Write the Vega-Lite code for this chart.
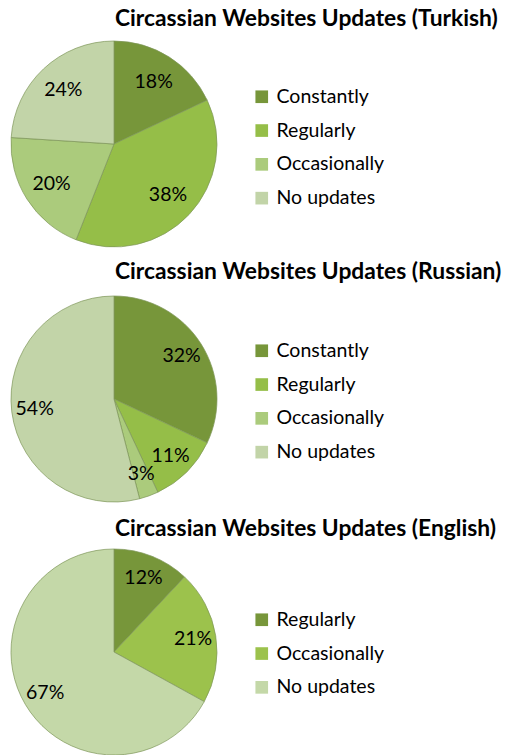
{
  "$schema": "https://vega.github.io/schema/vega-lite/v6.json",
  "padding": {"top": 8, "left": 0, "right": 0, "bottom": 0},
  "background": "white",
  "config": {
    "font": "Lato",
    "view": {"stroke": null},
    "concat": {"spacing": 10},
    "title": {"anchor": "start", "dx": 115, "fontSize": 22.8, "fontWeight": "bold", "font": "Lato", "color": "black", "offset": 6},
    "legend": {"title": null, "orient": "none", "legendX": 252, "labelFontSize": 19.5, "labelFont": "Lato", "labelColor": "black", "symbolType": "square", "symbolSize": 160, "symbolStrokeWidth": 0, "rowPadding": 12.8, "labelOffset": 5, "padding": 0}
  },
  "resolve": {"scale": {"color": "independent"}, "legend": {"color": "independent"}},
  "datasets": {
    "turkish": [
      {"category": "Constantly", "pct": 18, "ord": 1},
      {"category": "Regularly", "pct": 38, "ord": 2},
      {"category": "Occasionally", "pct": 20, "ord": 3},
      {"category": "No updates", "pct": 24, "ord": 4}
    ],
    "russian": [
      {"category": "Constantly", "pct": 32, "ord": 1},
      {"category": "Regularly", "pct": 11, "ord": 2},
      {"category": "Occasionally", "pct": 3, "ord": 3},
      {"category": "No updates", "pct": 54, "ord": 4}
    ],
    "english": [
      {"category": "Regularly", "pct": 12, "ord": 1},
      {"category": "Occasionally", "pct": 21, "ord": 2},
      {"category": "No updates", "pct": 67, "ord": 3}
    ]
  },
  "vconcat": [
    {
      "title": "Circassian Websites Updates (Turkish)",
      "width": 228, "height": 214,
      "data": {"name": "turkish"},
      "transform": [{"calculate": "datum.pct + '%'", "as": "label"}],
      "encoding": {
        "theta": {"field": "pct", "type": "quantitative", "stack": true},
        "order": {"field": "ord", "type": "quantitative"}
      },
      "layer": [
        {
          "mark": {"type": "arc", "outerRadius": 103, "stroke": "#7d9558", "strokeWidth": 1, "strokeOpacity": 0.7},
          "encoding": {
            "color": {"field": "category", "type": "nominal",
              "scale": {"domain": ["Constantly", "Regularly", "Occasionally", "No updates"], "range": ["#77963A", "#95BE48", "#ABCB7C", "#C2D4A8"]},
              "legend": {"legendY": 50}}
          }
        },
        {
          "mark": {"type": "text", "radius": 74, "fontSize": 19.5, "font": "Lato", "color": "black"},
          "encoding": {"text": {"field": "label"}}
        }
      ]
    },
    {
      "title": "Circassian Websites Updates (Russian)",
      "width": 228, "height": 218,
      "data": {"name": "russian"},
      "transform": [{"calculate": "datum.pct + '%'", "as": "label"}],
      "encoding": {
        "theta": {"field": "pct", "type": "quantitative", "stack": true},
        "order": {"field": "ord", "type": "quantitative"}
      },
      "layer": [
        {
          "mark": {"type": "arc", "outerRadius": 103, "stroke": "#7d9558", "strokeWidth": 1, "strokeOpacity": 0.7},
          "encoding": {
            "color": {"field": "category", "type": "nominal",
              "scale": {"domain": ["Constantly", "Regularly", "Occasionally", "No updates"], "range": ["#77963A", "#95BE48", "#ABCB7C", "#C2D4A8"]},
              "legend": {"legendY": 51}}
          }
        },
        {
          "mark": {"type": "text", "radius": 80, "fontSize": 19.5, "font": "Lato", "color": "black"},
          "encoding": {"text": {"field": "label"}}
        }
      ]
    },
    {
      "title": "Circassian Websites Updates (English)",
      "width": 228, "height": 206,
      "data": {"name": "english"},
      "transform": [{"calculate": "datum.pct + '%'", "as": "label"}],
      "encoding": {
        "theta": {"field": "pct", "type": "quantitative", "stack": true},
        "order": {"field": "ord", "type": "quantitative"}
      },
      "layer": [
        {
          "mark": {"type": "arc", "outerRadius": 103, "stroke": "#7d9558", "strokeWidth": 1, "strokeOpacity": 0.7},
          "encoding": {
            "color": {"field": "category", "type": "nominal",
              "scale": {"domain": ["Regularly", "Occasionally", "No updates"], "range": ["#77963A", "#9CC24C", "#C4D8A8"]},
              "legend": {"legendY": 61}}
          }
        },
        {
          "mark": {"type": "text", "radius": 80, "fontSize": 19.5, "font": "Lato", "color": "black"},
          "encoding": {"text": {"field": "label"}}
        }
      ]
    }
  ]
}
